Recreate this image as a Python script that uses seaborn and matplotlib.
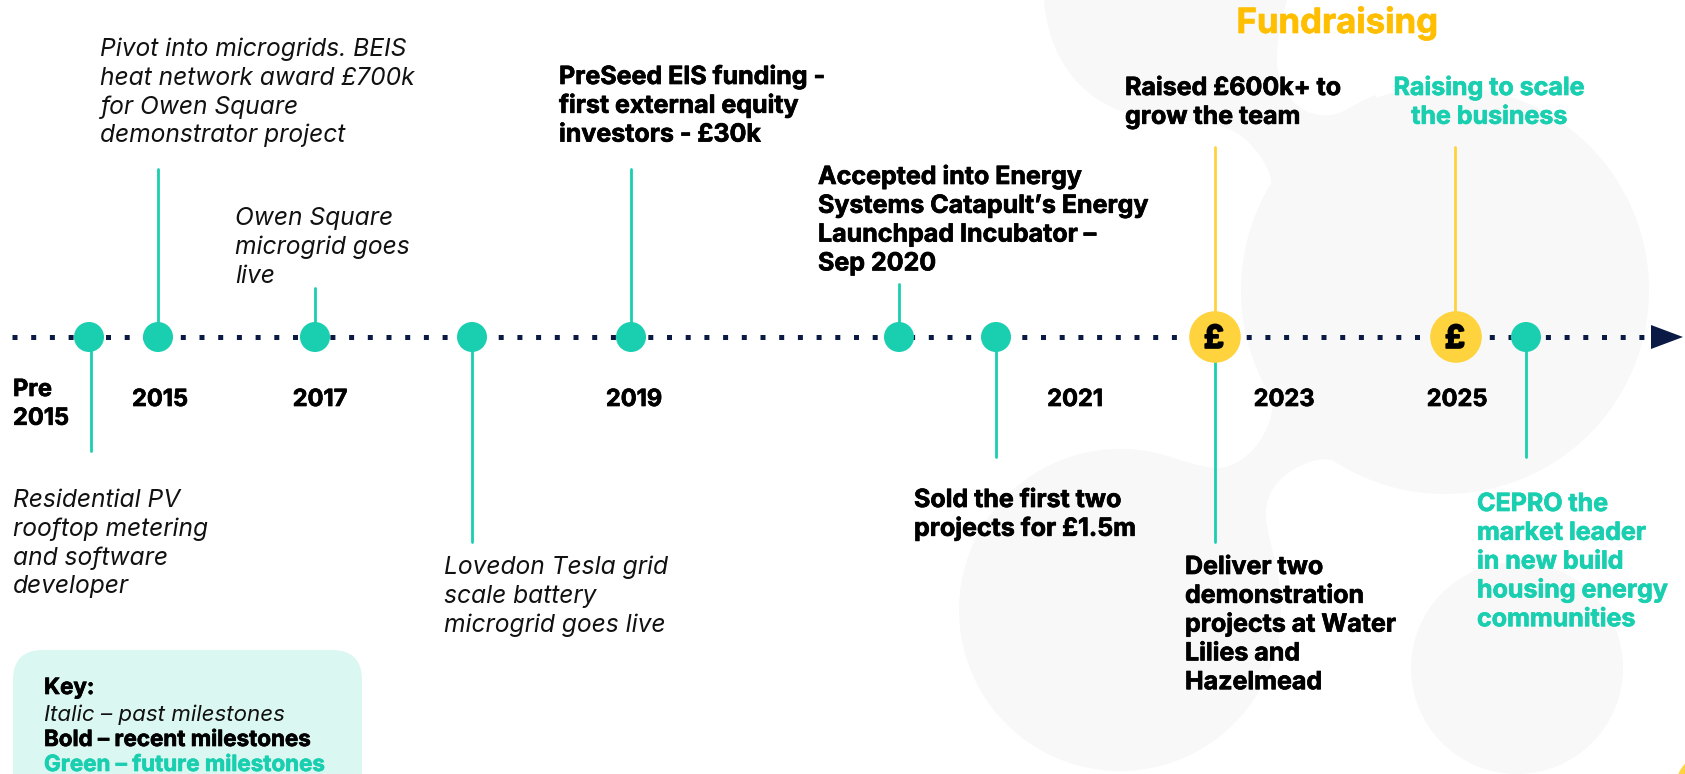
#!/usr/bin/env python3

import matplotlib.pyplot as plt
import matplotlib.patheffects as pe
import seaborn as sns
import pandas as pd
from matplotlib.patches import Circle, FancyBboxPatch, PathPatch, Polygon
from matplotlib.path import Path

GREEN = '#19CFB0'
YELLOW = '#FFD33D'
NAVY = '#0B1A45'
GREY = '#F8F8F8'
FONT = 'Inter'
LINE_Y = 337

# milestones along the timeline
event_x = [89, 158, 315, 472, 631, 899, 996, 1215, 1456, 1526]
event_kind = ['milestone'] * 7 + ['fund', 'fund', 'milestone']
stem_x = [91, 158, 315, 472, 631, 899, 996, 1215, 1215, 1455, 1526]
stem_end = [451, 169, 288, 542, 169, 284, 457, 147, 542, 147, 457]
stem_kind = ['g', 'g', 'g', 'g', 'g', 'g', 'g', 'y', 'g', 'y', 'g']

year_labels = ['2015', '2017', '2019', '2021', '2023', '2025']
year_x = [160, 320, 634, 1075, 1284, 1457]

past_text = [
    (100, 56, 'Pivot into microgrids. BEIS\nheat network award £700k\nfor Owen Square\ndemonstrator project'),
    (235, 225, 'Owen Square\nmicrogrid goes\nlive'),
    (13, 507, 'Residential PV\nrooftop metering\nand software\ndeveloper'),
    (444, 574, 'Lovedon Tesla grid\nscale battery\nmicrogrid goes live'),
]
recent_text = [
    (559, 84, 'PreSeed EIS funding -\nfirst external equity\ninvestors - £30k'),
    (818, 184, 'Accepted into Energy\nSystems Catapult’s Energy\nLaunchpad Incubator –\nSep 2020'),
    (914, 507, 'Sold the first two\nprojects for £1.5m'),
    (1125, 95, 'Raised £600k+ to\ngrow the team'),
    (1185, 574, 'Deliver two\ndemonstration\nprojects at Water\nLilies and\nHazelmead'),
]
future_text = [
    (1477, 511, 'CEPRO the\nmarket leader\nin new build\nhousing energy\ncommunities'),
]
key_lines = ['Key:', 'Italic – past milestones', 'Bold – recent milestones', 'Green – future milestones']


def heavy(color):
    # Inter bold comes out lighter than the original face
    return [pe.withStroke(linewidth=0.5, foreground=color)]


def put_lines(ax, x, y, text, step=28.8, **kw):
    for i, line in enumerate(text.split('\n')):
        ax.text(x, y + i * step, line, va='baseline', family=FONT, **kw)


sns.set_theme(style='white')
fig = plt.figure(figsize=(16.85, 7.74), dpi=100, facecolor='white')
ax = fig.add_axes([0, 0, 1, 1])
ax.set_xlim(0, 1685)
ax.set_ylim(774, 0)
ax.axis('off')

# pale background shapes
ax.add_patch(Circle((1445, 290), 204, color=GREY, lw=0, zorder=0))
ax.add_patch(Circle((1120, 610), 161, color=GREY, lw=0, zorder=0))
ax.add_patch(Circle((1517, 668), 106, color=GREY, lw=0, zorder=0))
ax.add_patch(Circle((1708, 786), 32, color=YELLOW, lw=0, zorder=0))
C4 = Path.CURVE4
top_blob = Path(
    [(1044, 0), (1048, 60), (1085, 110), (1150, 118),
     (1190, 122), (1225, 120), (1246, 140),
     (1272, 165), (1280, 190), (1265, 225),
     (1255, 250), (1245, 270), (1241, 300),
     (1400, 300), (1376, 95),
     (1350, 105), (1340, 118), (1320, 115),
     (1290, 112), (1275, 80), (1277, 55),
     (1278, 30), (1283, 15), (1287, 0),
     (1044, 0)],
    [Path.MOVETO, C4, C4, C4, C4, C4, C4, C4, C4, C4, C4, C4, C4,
     Path.LINETO, Path.LINETO, C4, C4, C4, C4, C4, C4, C4, C4, C4,
     Path.CLOSEPOLY],
)
ax.add_patch(PathPatch(top_blob, facecolor=GREY, lw=0, zorder=0))
low_neck = Path(
    [(1120, 449), (1160, 449), (1185, 465), (1214, 468),
     (1240, 470), (1272, 440), (1273, 400),
     (1350, 400), (1349, 467),
     (1335, 458), (1320, 458), (1310, 462),
     (1285, 470), (1264, 490), (1266, 517),
     (1268, 545), (1281, 565), (1281, 610),
     (1120, 610), (1120, 449)],
    [Path.MOVETO, C4, C4, C4, C4, C4, C4,
     Path.LINETO, Path.LINETO, C4, C4, C4, C4, C4, C4, C4, C4, C4,
     Path.LINETO, Path.CLOSEPOLY],
)
ax.add_patch(PathPatch(low_neck, facecolor=GREY, lw=0, zorder=0))

# key box
ax.add_patch(FancyBboxPatch((13, 650), 349, 160, boxstyle='round,pad=0,rounding_size=30',
                            facecolor='#DBF7F1', edgecolor='none', lw=0, zorder=1))

# timeline
line_df = pd.DataFrame({'x': [12, 1650], 'y': [LINE_Y, LINE_Y]})
sns.lineplot(data=line_df, x='x', y='y', color=NAVY, lw=3.6, ax=ax, zorder=2,
             linestyle=(0, (1, 2.74)), errorbar=None, legend=False, sort=False)
ax.get_lines()[-1].set_dash_capstyle('butt')
ax.add_patch(Polygon([(1651, 325), (1651, 349), (1683, LINE_Y)], color=NAVY, lw=0, zorder=3))

# stems
for sx, end, kind in zip(stem_x, stem_end, stem_kind):
    stem_df = pd.DataFrame({'x': [sx, sx], 'y': [LINE_Y, end]})
    sns.lineplot(data=stem_df, x='x', y='y', color=GREEN if kind == 'g' else YELLOW,
                 lw=2, ax=ax, zorder=3, errorbar=None, estimator=None, sort=False, legend=False)

# milestone dots
dots = pd.DataFrame({'x': event_x, 'y': [LINE_Y] * len(event_x), 'kind': event_kind})
sns.scatterplot(data=dots, x='x', y='y', hue='kind', size='kind',
                palette={'milestone': GREEN, 'fund': YELLOW},
                sizes={'milestone': 467, 'fund': 1380},
                linewidth=0, legend=False, ax=ax, zorder=4)
for x, kind in zip(event_x, event_kind):
    if kind == 'fund':
        ax.text(x - 1, LINE_Y + 11, '£', ha='center', va='baseline', fontsize=23, fontweight='bold',
                color='black', family=FONT, zorder=5, path_effects=[pe.withStroke(linewidth=1.2, foreground='black')])

ax.set_xlim(0, 1685)
ax.set_ylim(774, 0)
ax.axis('off')

# text
italic_size = 17.7
bold_size = 18
for x, y, t in past_text:
    put_lines(ax, x, y, t, fontsize=italic_size, style='italic', color='#111111', zorder=6)
for x, y, t in recent_text:
    put_lines(ax, x, y, t, fontsize=bold_size, fontweight='bold', color='black', zorder=6, path_effects=heavy('black'))
for x, y, t in future_text:
    put_lines(ax, x, y, t, fontsize=bold_size, fontweight='bold', color=GREEN, zorder=6, path_effects=heavy(GREEN))
put_lines(ax, 1489, 95, 'Raising to scale\nthe business', fontsize=bold_size, fontweight='bold', color=GREEN,
          ha='center', zorder=6, path_effects=heavy(GREEN))
for x, label in zip(year_x, year_labels):
    ax.text(x, 406, label, ha='center', va='baseline', fontsize=17, fontweight='bold', color='black',
            family=FONT, zorder=6, path_effects=heavy('black'))
put_lines(ax, 13, 396, 'Pre\n2015', fontsize=17, fontweight='bold', color='black', zorder=6, path_effects=heavy('black'))
ax.text(1337, 33, 'Fundraising', ha='center', va='baseline', fontsize=25, fontweight='bold', color='#FFBF00',
        family=FONT, zorder=6, path_effects=heavy('#FFBF00'))

key_y = [694, 721, 746, 771]
key_style = [dict(fontweight='bold', color='black', path_effects=heavy('black')),
             dict(style='italic', color='#111111'),
             dict(fontweight='bold', color='black', path_effects=heavy('black')),
             dict(fontweight='bold', color=GREEN, path_effects=heavy(GREEN))]
for y, line, st in zip(key_y, key_lines, key_style):
    ax.text(44, y, line, fontsize=16.1, va='baseline', family=FONT, zorder=6, **st)

fig.savefig('out.png', dpi=100)
plt.close(fig)
